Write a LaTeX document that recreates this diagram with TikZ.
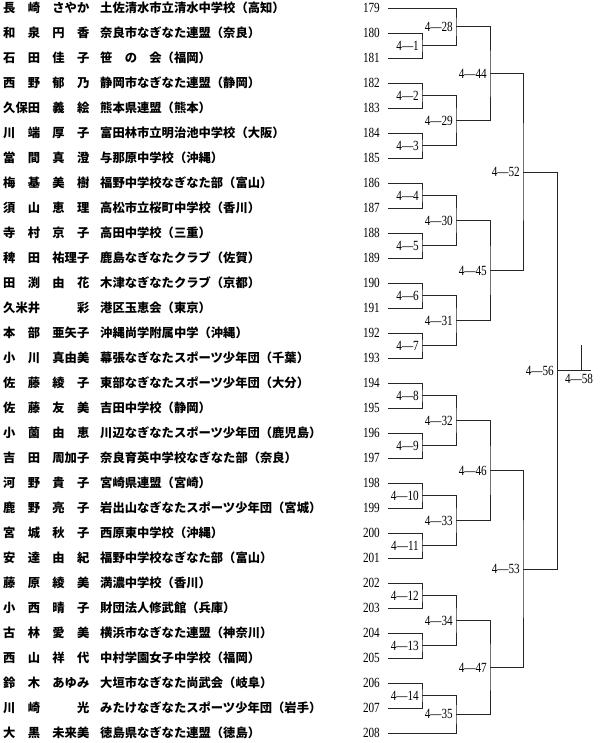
\documentclass[tikz,border=0pt]{standalone}
\usepackage{fontspec}
\newfontfamily\jpfont{Noto Sans CJK JP}
\newfontfamily\numfont[FakeStretch=0.8]{Liberation Serif}
\usetikzlibrary{calc}

\begin{document}
\begin{tikzpicture}[x=1pt, y=-1pt,
    every node/.style={inner sep=0pt},
    nm/.style={anchor=west, font=\jpfont\bfseries\fontsize{12.3}{14}\selectfont},
    num/.style={anchor=east, font=\numfont\fontsize{14}{16}\selectfont},
    mlab/.style={num, xshift=-3pt},
    brk/.style={line width=0.7pt, color=black!85},
]
\useasboundingbox (0,0) rectangle (600,743);

% ================================================================ entrants
\foreach \i/\n/\who/\club in {
    0/179/長　崎　さやか/土佐清水市立清水中学校（高知）,
    1/180/和　泉　円　香/奈良市なぎなた連盟（奈良）,
    2/181/石　田　佳　子/笹　の　会（福岡）,
    3/182/西　野　郁　乃/静岡市なぎなた連盟（静岡）,
    4/183/久保田　義　絵/熊本県連盟（熊本）,
    5/184/川　端　厚　子/富田林市立明治池中学校（大阪）,
    6/185/當　間　真　澄/与那原中学校（沖縄）,
    7/186/梅　基　美　樹/福野中学校なぎなた部（富山）,
    8/187/須　山　恵　理/高松市立桜町中学校（香川）,
    9/188/寺　村　京　子/高田中学校（三重）,
    10/189/稗　田　祐理子/鹿島なぎなたクラブ（佐賀）,
    11/190/田　渕　由　花/木津なぎなたクラブ（京都）,
    12/191/久米井　　　彩/港区玉恵会（東京）,
    13/192/本　部　亜矢子/沖縄尚学附属中学（沖縄）,
    14/193/小　川　真由美/幕張なぎなたスポーツ少年団（千葉）,
    15/194/佐　藤　綾　子/東部なぎなたスポーツ少年団（大分）,
    16/195/佐　藤　友　美/吉田中学校（静岡）,
    17/196/小　薗　由　恵/川辺なぎなたスポーツ少年団（鹿児島）,
    18/197/吉　田　周加子/奈良育英中学校なぎなた部（奈良）,
    19/198/河　野　貴　子/宮崎県連盟（宮崎）,
    20/199/鹿　野　亮　子/岩出山なぎなたスポーツ少年団（宮城）,
    21/200/宮　城　秋　子/西原東中学校（沖縄）,
    22/201/安　達　由　紀/福野中学校なぎなた部（富山）,
    23/202/藤　原　綾　美/満濃中学校（香川）,
    24/203/小　西　晴　子/財団法人修武館（兵庫）,
    25/204/古　林　愛　美/横浜市なぎなた連盟（神奈川）,
    26/205/西　山　祥　代/中村学園女子中学校（福岡）,
    27/206/鈴　木　あゆみ/大垣市なぎなた尚武会（岐阜）,
    28/207/川　崎　　　光/みたけなぎなたスポーツ少年団（岩手）,
    29/208/大　黒　未来美/徳島県なぎなた連盟（徳島）}{
    \node[nm] (p\n) at (3, {8+25*\i}) {\who};
    \node[nm] (c\n) at (100, {8+25*\i}) {\club};
    \node[num] (n\n) at (380, {8+25*\i}) {\n};
    \coordinate (e\n) at (388, {8+25*\i});
}

% ================================================================ bracket
\foreach \k/\x/\y/\a/\b in {
    1/422/45.5/e180/e181, 2/422/95.5/e182/e183, 3/422/145.5/e184/e185,
    4/422/195.5/e186/e187, 5/422/245.5/e188/e189, 6/422/295.5/e190/e191,
    7/422/345.5/e192/e193, 8/422/395.5/e194/e195, 9/422/445.5/e196/e197,
    10/422/495.5/e198/e199, 11/422/545.5/e200/e201, 12/422/595.5/e202/e203,
    13/422/645.5/e204/e205, 14/422/695.5/e206/e207,
    28/456/26.75/e179/m1, 29/456/120.5/m2/m3, 30/456/220.5/m4/m5,
    31/456/320.5/m6/m7, 32/456/420.5/m8/m9, 33/456/520.5/m10/m11,
    34/456/620.5/m12/m13, 35/456/714.25/m14/e208,
    44/490/73.6/m28/m29, 45/490/270.5/m30/m31,
    46/490/470.5/m32/m33, 47/490/667.4/m34/m35,
    52/523/172/m44/m45, 53/523/569/m46/m47,
    56/557/370.5/m52/m53}{
    \coordinate (m\k) at (\x, \y);
    \draw[brk] (\a) -| (m\k) |- (\b);
    \node[mlab] (l\k) at (m\k) {4—\k};
}

% final
\coordinate (f58) at (591, 370.5);
\coordinate (t58) at (581, 345);
\draw[brk] (m56) -- (f58);
\draw[brk] (t58) -- (t58 |- m56);
\node[num, anchor=north] (l58) at (579, 374) {4—58};

\end{tikzpicture}
\end{document}
